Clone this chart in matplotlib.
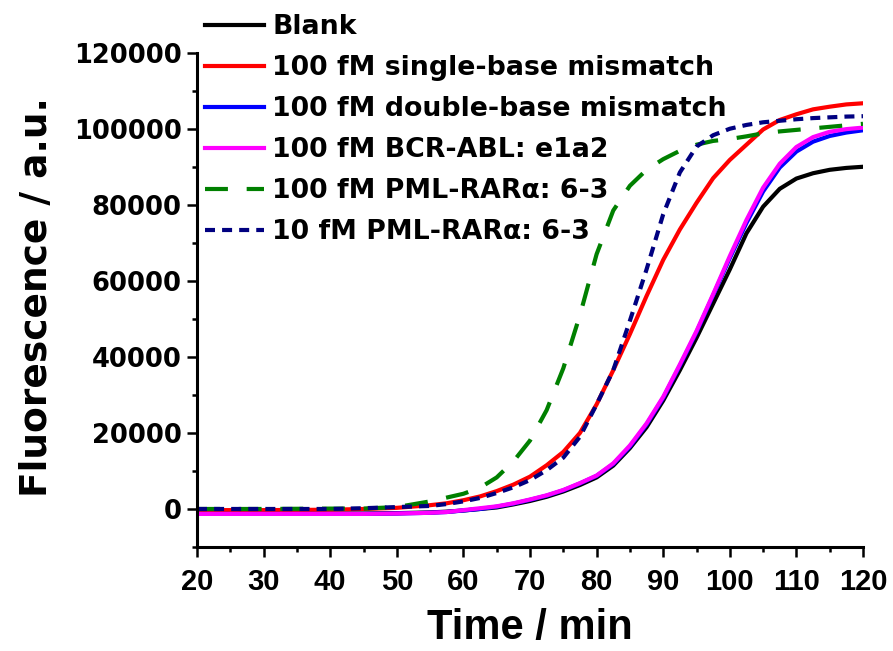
import matplotlib
matplotlib.use("Agg")
import matplotlib.pyplot as plt
from matplotlib.ticker import MultipleLocator

plt.rcParams['font.family'] = ['Liberation Sans', 'DejaVu Sans']
plt.rcParams['font.weight'] = 'bold'
WIDE = ['DejaVu Sans']

# time axis (min)
time = [20, 30, 40, 45, 50, 55, 57.5, 60, 62.5, 65, 67.5, 70, 72.5, 75, 77.5, 80, 82.5,
        85, 87.5, 90, 92.5, 95, 97.5, 100, 102.5, 105, 107.5, 110, 112.5, 115, 117.5, 120]

blank = [-1200, -1200, -1200, -1200, -1100, -900, -700, -400, 0, 400, 1200, 2100, 3200,
         4600, 6300, 8300, 11400, 16000, 21500, 28500, 36500, 45000, 54000, 63000, 72500,
         79500, 84200, 86900, 88300, 89200, 89700, 90000]
single_mm = [-300, -300, -200, 0, 300, 1000, 1500, 2300, 3300, 4700, 6400, 8500, 11500,
             15000, 20000, 27500, 36500, 46000, 56000, 65500, 73500, 80500, 87000, 91800,
             95800, 99800, 102300, 103800, 105100, 105800, 106400, 106700]
double_mm = [-1300, -1300, -1300, -1300, -1200, -1000, -800, -400, 0, 600, 1400, 2400, 3500,
             4900, 6700, 8700, 11800, 16400, 22200, 29200, 37700, 46500, 56200, 66000, 75200,
             83500, 89800, 94000, 96600, 98100, 99000, 99600]
bcr_abl = [-1300, -1300, -1300, -1300, -1200, -1000, -800, -300, 200, 700, 1500, 2500, 3600,
           5000, 6800, 8800, 12000, 16700, 22500, 29500, 38000, 46800, 56500, 66500, 76000,
           84500, 90800, 95200, 97800, 99200, 99900, 100300]
pml_100 = [0, 0, 100, 100, 500, 2000, 3000, 4000, 5600, 8300, 12500, 18000, 26000,
           37000, 51000, 67000, 78500, 85000, 89200, 92000, 94200, 95800, 96800, 97300,
           98000, 98800, 99300, 99700, 100100, 100500, 100900, 101300]
pml_10 = [0, 0, 0, 200, 500, 800, 1300, 2000, 2900, 4200, 5700, 7600, 10200,
          13500, 19000, 27500, 36500, 49500, 63000, 77500, 88500, 95300, 98300, 100000,
          101000, 101700, 102100, 102500, 102800, 103000, 103200, 103300]

labels = ['Blank', '100 fM single-base mismatch', '100 fM double-base mismatch',
          '100 fM BCR-ABL: e1a2', '100 fM PML-RAR\u03b1: 6-3', '10 fM PML-RAR\u03b1: 6-3']

fig = plt.figure(figsize=(8.93, 6.51), dpi=100)
ax = fig.add_axes([197/893, 1 - 547/651, (863 - 197)/893, (547 - 52.7)/651])

lw = 3
ax.plot(time, blank, color='black', lw=lw, label=labels[0])
ax.plot(time, single_mm, color='#ff0000', lw=lw, label=labels[1])
ax.plot(time, double_mm, color='#0000ff', lw=lw, label=labels[2])
ax.plot(time, bcr_abl, color='#ff00ff', lw=lw, label=labels[3])
ax.plot(time, pml_100, color='#008000', lw=lw, dashes=(5.5, 4.5), label=labels[4])
ax.plot(time, pml_10, color='#000080', lw=lw, dashes=(2.4, 1.7), label=labels[5])

ax.set_xlim(20, 120)
ax.set_ylim(-10000, 120000)
ax.xaxis.set_major_locator(MultipleLocator(10))
ax.xaxis.set_minor_locator(MultipleLocator(5))
ax.yaxis.set_major_locator(MultipleLocator(20000))
ax.yaxis.set_minor_locator(MultipleLocator(10000))

for s in ['top', 'right']:
    ax.spines[s].set_visible(False)
for s in ['left', 'bottom']:
    ax.spines[s].set_linewidth(2.2)

ax.tick_params(which='major', direction='out', length=7, width=1.8)
ax.tick_params(which='minor', direction='out', length=3.5, width=1.8)
ax.tick_params(axis='x', which='major', labelsize=21, pad=8)
ax.tick_params(axis='y', which='major', labelsize=18.5, pad=4)
for t in ax.get_xticklabels():
    t.set_fontweight('bold')
for t in ax.get_yticklabels():
    t.set_fontweight('bold')
    t.set_family(WIDE)

fig.text(530/893, 1 - 628/651, 'Time / min', fontsize=30, fontweight='bold',
         ha='center', va='center')
fig.text(37/893, 1 - 297/651, 'Fluorescence / a.u.', fontsize=27, fontweight='bold',
         family=WIDE, rotation=90, ha='center', va='center')

leg = ax.legend(loc='upper left', bbox_to_anchor=(205/893, 1 - 14/651),
                bbox_transform=fig.transFigure, frameon=False,
                prop={'family': WIDE, 'weight': 'bold', 'size': 19.3},
                handlelength=2.2, handletextpad=0.3, labelspacing=0.56, borderpad=0,
                borderaxespad=0)

fig.savefig('out.png', dpi=100)
